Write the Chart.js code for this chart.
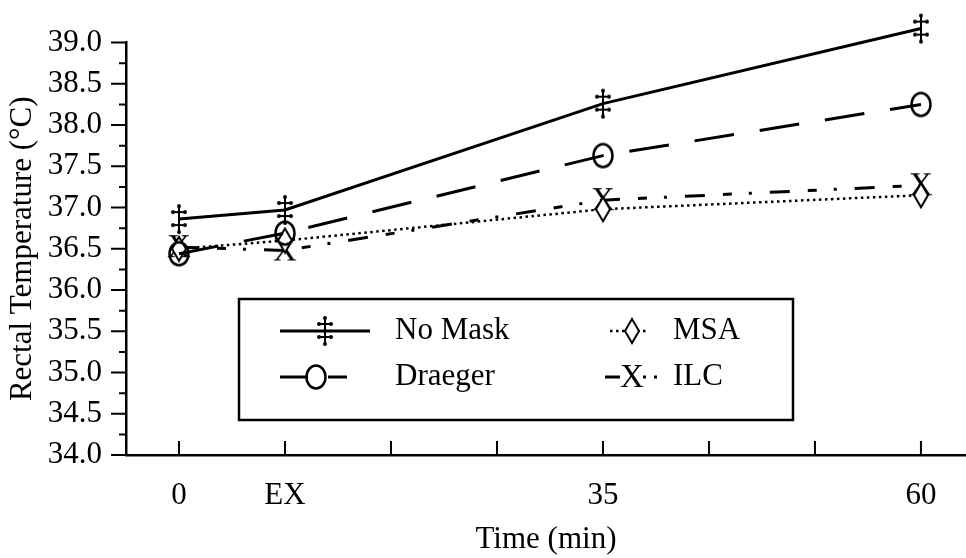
<!DOCTYPE html>
<html>
<head>
<meta charset="utf-8">
<script src="https://cdn.jsdelivr.net/npm/chart.js@4"></script>
<style>body{margin:0;background:#fff}</style>
</head>
<body>
<canvas id="c" width="966" height="558"></canvas>
<script>
// x axis: evenly spaced tick slots, only some labelled
const timeLabels = ['0', 'EX', '', '', '35', '', '', '60'];
const timePos = [0, 1, 4, 7];

const noMask  = [36.86, 36.97, 38.26, 39.17];
const draeger = [36.44, 36.69, 37.63, 38.25];
const msa     = [36.50, 36.60, 36.98, 37.15];
const ilc     = [36.52, 36.48, 37.09, 37.27];

const yTickLabels = ['34.0', '34.5', '35.0', '35.5', '36.0', '36.5', '37.0', '37.5', '38.0', '38.5', '39.0'];

const serif = '"Liberation Serif", "Times New Roman", serif';
Chart.defaults.font.family = serif;
Chart.defaults.color = '#000';

function mark(w, h, draw) {
    const c = document.createElement('canvas');
    c.width = w; c.height = h;
    const g = c.getContext('2d');
    g.strokeStyle = '#000'; g.fillStyle = '#000';
    draw(g, w, h);
    return c;
}

const daggerImg = mark(16, 32, g => {
    g.lineWidth = 2;
    g.beginPath();
    g.moveTo(8, 3); g.lineTo(8, 29);
    g.moveTo(2, 9); g.lineTo(14, 9);
    g.moveTo(2, 22); g.lineTo(14, 22);
    g.stroke();
    [[8, 3], [2, 9], [14, 9], [8, 29], [2, 22], [14, 22]].forEach(p => {
        g.beginPath(); g.arc(p[0], p[1], 2, 0, Math.PI * 2); g.fill();
    });
});
const circleImg = mark(24, 28, g => {
    g.lineWidth = 2.5;
    g.beginPath(); g.ellipse(12, 14, 9.5, 11.5, 0, 0, Math.PI * 2); g.stroke();
});
const diamondImg = mark(18, 28, g => {
    g.lineWidth = 2;
    g.beginPath();
    g.moveTo(9, 2); g.lineTo(16, 14); g.lineTo(9, 26); g.lineTo(2, 14); g.closePath();
    g.fillStyle = '#fff'; g.fill(); g.stroke();
});
const xImg = mark(28, 30, g => {
    g.font = '33px ' + serif;
    g.textAlign = 'center'; g.textBaseline = 'middle';
    g.fillText('X', 14, 16);
});

const dashDraeger = [40, 26];
const dashMsa = [2.5, 3.5];
const dashIlc = [20, 18, 9, 17, 3, 18];

function series(label, vals, dash, img, width) {
    return {
        label,
        data: timePos.map((x, i) => ({x, y: vals[i]})),
        borderColor: '#000',
        borderWidth: width,
        borderDash: dash,
        pointStyle: img,
        pointRadius: 24,
        clip: false,
        fill: false,
        tension: 0
    };
}

const axisTicks = {
    id: 'axisTicks',
    afterDraw(chart) {
        const {ctx, scales: {x, y}, chartArea} = chart;
        ctx.save();
        ctx.strokeStyle = '#000';
        ctx.lineWidth = 2;
        ctx.beginPath();
        x.ticks.forEach(t => {
            const px = x.getPixelForValue(t.value);
            ctx.moveTo(px, chartArea.bottom); ctx.lineTo(px, chartArea.bottom - 14);
        });
        const left = chartArea.left;
        yTickLabels.forEach((t, i) => {
            const v = parseFloat(t);
            const py = y.getPixelForValue(v);
            ctx.moveTo(left - 15, py); ctx.lineTo(left, py);
            if (i < yTickLabels.length - 1) {
                const pm = y.getPixelForValue((v + parseFloat(yTickLabels[i + 1])) / 2);
                ctx.moveTo(left - 7, pm); ctx.lineTo(left, pm);
            }
        });
        ctx.stroke();
        ctx.restore();
    }
};

const legendBox = {
    id: 'legendBox',
    afterDraw(chart) {
        const ctx = chart.ctx;
        ctx.save();
        ctx.strokeStyle = '#000';
        ctx.fillStyle = '#fff';
        ctx.lineWidth = 2.5;
        ctx.fillRect(239, 299, 554, 121);
        ctx.strokeRect(239, 299, 554, 121);
        ctx.fillStyle = '#000';

        function seg(x1, x2, y, dash, w) {
            ctx.setLineDash(dash);
            ctx.lineWidth = w;
            ctx.beginPath(); ctx.moveTo(x1, y); ctx.lineTo(x2, y); ctx.stroke();
            ctx.setLineDash([]);
        }
        function img(im, x, y) { ctx.drawImage(im, x - im.width / 2, y - im.height / 2); }

        const r1 = 331, r2 = 377;
        // No Mask
        seg(280, 370, r1, [], 3);
        img(daggerImg, 325, r1);
        // Draeger
        seg(280, 308, r2, [], 3);
        seg(328, 347, r2, [], 3);
        img(circleImg, 316, r2);
        // MSA
        seg(610, 627, r1, dashMsa, 2.5);
        seg(637, 647, r1, dashMsa, 2.5);
        img(diamondImg, 632, r1);
        // ILC
        seg(605, 620, r2, [], 3);
        seg(643, 660, r2, [3, 8], 3);
        img(xImg, 632, r2);

        ctx.font = '31px ' + serif;
        ctx.textBaseline = 'middle';
        ctx.textAlign = 'left';
        ctx.fillText('No Mask', 395, r1);
        ctx.fillText('Draeger', 395, r2);
        ctx.fillText('MSA', 673, r1);
        ctx.fillText('ILC', 673, r2);
        ctx.restore();
    }
};

new Chart(document.getElementById('c'), {
    type: 'line',
    data: {
        datasets: [
            series('No Mask', noMask, [], daggerImg, 3),
            series('Draeger', draeger, dashDraeger, circleImg, 3),
            series('MSA', msa, dashMsa, diamondImg, 2.5),
            series('ILC', ilc, dashIlc, xImg, 3)
        ]
    },
    options: {
        responsive: false,
        animation: false,
        layout: {autoPadding: false, padding: {top: 24, left: 0, right: 0, bottom: 0}},
        plugins: {legend: {display: false}, tooltip: {enabled: false}},
        scales: {
            x: {
                type: 'linear',
                min: -0.5,
                max: 7.425,
                afterBuildTicks: s => { s.ticks = timeLabels.map((_, i) => ({value: i})); },
                afterFit: s => { s.height = 103; },
                ticks: {
                    callback: (v, i) => timeLabels[i],
                    autoSkip: false,
                    maxRotation: 0,
                    padding: 22,
                    font: {size: 31}
                },
                grid: {display: false, drawTicks: false},
                border: {display: true, color: '#000', width: 2.5},
                title: {display: true, text: 'Time (min)', font: {size: 31}, padding: 0}
            },
            y: {
                min: 34,
                max: 39,
                afterBuildTicks: s => { s.ticks = yTickLabels.map(t => ({value: parseFloat(t)})); },
                afterFit: s => { s.width = 126; },
                ticks: {
                    callback: (v, i) => yTickLabels[i],
                    autoSkip: false,
                    padding: 24,
                    font: {size: 31}
                },
                grid: {display: false, drawTicks: false},
                border: {display: true, color: '#000', width: 2.5},
                title: {display: true, text: 'Rectal Temperature (°C)', font: {size: 31}, padding: {top: 4, bottom: 0}}
            }
        }
    },
    plugins: [axisTicks, legendBox]
});
</script>
</body>
</html>
